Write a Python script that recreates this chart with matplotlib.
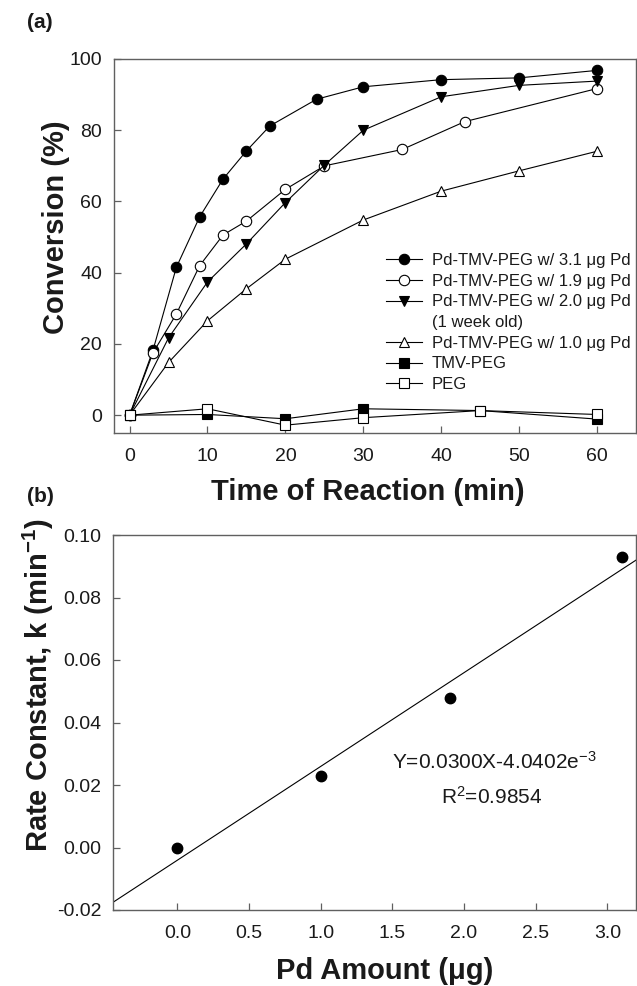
import matplotlib
matplotlib.use("Agg")
import matplotlib.pyplot as plt
from matplotlib.lines import Line2D

plt.rcParams['font.family'] = ['Liberation Sans', 'DejaVu Sans']
plt.rcParams['mathtext.fontset'] = 'custom'
plt.rcParams['mathtext.rm'] = 'Liberation Sans'
plt.rcParams['mathtext.it'] = 'Liberation Sans:italic'
plt.rcParams['mathtext.bf'] = 'Liberation Sans:bold'

# ---- panel (a): conversion vs time ----
t_31 = [0, 3, 6, 9, 12, 15, 18, 24, 30, 40, 50, 60]
c_31 = [0, 18.2, 41.5, 55.7, 66.3, 74.2, 81.2, 88.7, 92.2, 94.2, 94.7, 96.8]

t_19 = [0, 3, 6, 9, 12, 15, 20, 25, 35, 43, 60]
c_19 = [0, 17.5, 28.4, 42.0, 50.6, 54.5, 63.4, 70.0, 74.6, 82.4, 91.7]

t_20 = [0, 5, 10, 15, 20, 25, 30, 40, 50, 60]
c_20 = [0, 21.7, 37.4, 48.1, 59.7, 70.2, 80.0, 89.4, 92.6, 93.8]

t_10 = [0, 5, 10, 15, 20, 30, 40, 50, 60]
c_10 = [0, 14.8, 26.5, 35.5, 43.8, 54.8, 62.9, 68.6, 74.1]

t_ctrl = [0, 10, 20, 30, 45, 60]
c_tmv = [0, 0.2, -1.0, 1.8, 1.3, -1.1]
c_peg = [0, 1.8, -2.8, -0.7, 1.3, 0.2]

# ---- panel (b): rate constant vs Pd amount ----
pd_amount = [0.0, 1.0, 1.9, 3.1]
rate_k = [0.000, 0.023, 0.048, 0.093]
fit_slope = 0.0300
fit_icpt = -4.0402e-3

FRAME = '#606060'
TXT = '#1a1a1a'

fig = plt.figure(figsize=(6.37, 9.86), dpi=100)
ax_a = fig.add_axes([114/637, 1-433/986, (636-114)/637, (433-59)/986])
ax_b = fig.add_axes([113/637, 1-910/986, (636-113)/637, (910-535)/986])

def style_axes(ax):
    for sp in ax.spines.values():
        sp.set_color(FRAME)
        sp.set_linewidth(1.0)
    ax.tick_params(direction='in', length=5, width=0.9, color=FRAME,
                   labelsize=14, labelcolor=TXT)
    ax.tick_params(axis='x', pad=10.5)
    ax.tick_params(axis='y', pad=8.5)

lw = 0.8
ms = 7.5
kw = dict(color='black', linewidth=lw, markersize=ms, markeredgewidth=0.8,
          markeredgecolor='black')

h1, = ax_a.plot(t_31, c_31, marker='o', markerfacecolor='black', **kw)
h2, = ax_a.plot(t_19, c_19, marker='o', markerfacecolor='white', **kw)
h3, = ax_a.plot(t_20, c_20, marker='v', markerfacecolor='black', **kw)
h4, = ax_a.plot(t_10, c_10, marker='^', markerfacecolor='white', **kw)
kw_sq = dict(kw, markersize=6.5)
h5, = ax_a.plot(t_ctrl, c_tmv, marker='s', markerfacecolor='black', **kw_sq)
h6, = ax_a.plot(t_ctrl, c_peg, marker='s', markerfacecolor='white', **kw_sq)
blank = Line2D([], [], linestyle='none', marker=None)

ax_a.set_xlim(-2, 65)
ax_a.set_ylim(-5, 100)
ax_a.set_xticks(range(0, 61, 10))
ax_a.set_yticks(range(0, 101, 20))
style_axes(ax_a)

ax_a.legend([h1, h2, h3, blank, h4, h5, h6],
            ['Pd-TMV-PEG w/ 3.1 \u03bcg Pd', 'Pd-TMV-PEG w/ 1.9 \u03bcg Pd',
             'Pd-TMV-PEG w/ 2.0 \u03bcg Pd', '(1 week old)',
             'Pd-TMV-PEG w/ 1.0 \u03bcg Pd', 'TMV-PEG', 'PEG'],
            loc='upper left', bbox_to_anchor=(0.521, 0.481), frameon=False,
            fontsize=12, handlelength=2.15, handletextpad=0.6,
            labelspacing=0.34, borderpad=0, borderaxespad=0, labelcolor=TXT)

ax_a.set_xlabel('Time of Reaction (min)', fontsize=21, fontweight='bold',
                color=TXT, va='baseline')
ax_a.xaxis.set_label_coords(0.486, -0.179)
ax_a.set_ylabel('Conversion (%)', fontsize=21, fontweight='bold',
                color=TXT, va='baseline')
ax_a.yaxis.set_label_coords(-0.096, 0.549)

fig.text(27/637, 1-23/986, '(a)', fontsize=15, fontweight='bold',
         color=TXT, ha='left', va='center')

# ---- panel (b) ----
ax_b.set_xlim(-0.45, 3.2)
ax_b.set_ylim(-0.02, 0.10)
xfit = list(ax_b.get_xlim())
yfit = [fit_slope * x + fit_icpt for x in xfit]
ax_b.plot(xfit, yfit, color='black', linewidth=lw)
ax_b.plot(pd_amount, rate_k, linestyle='none', marker='o', color='black',
          markersize=ms)
ax_b.set_xticks([0, 0.5, 1.0, 1.5, 2.0, 2.5, 3.0])
ax_b.set_xticklabels(['0.0', '0.5', '1.0', '1.5', '2.0', '2.5', '3.0'])
ax_b.set_yticks([-0.02, 0, 0.02, 0.04, 0.06, 0.08, 0.10])
ax_b.set_yticklabels(['-0.02', '0.00', '0.02', '0.04', '0.06', '0.08', '0.10'])
style_axes(ax_b)

ax_b.text(2.21, 0.0251, 'Y=0.0300X-4.0402e$^{-3}$', fontsize=15, color=TXT,
          ha='center', va='baseline')
ax_b.text(2.19, 0.0139, 'R$^{2}$=0.9854', fontsize=15, color=TXT,
          ha='center', va='baseline')

ax_b.set_xlabel('Pd Amount (\u03bcg)', fontsize=21, fontweight='bold',
                color=TXT, va='baseline')
ax_b.xaxis.set_label_coords(0.52, -0.185)
ax_b.set_ylabel('Rate Constant, k (min$^{\\mathbf{-1}}$)', fontsize=21,
                fontweight='bold', color=TXT, va='baseline')
ax_b.yaxis.set_label_coords(-0.124, 0.60)

fig.text(27/637, 1-497/986, '(b)', fontsize=15, fontweight='bold',
         color=TXT, ha='left', va='center')

fig.savefig('out.png', dpi=100)
